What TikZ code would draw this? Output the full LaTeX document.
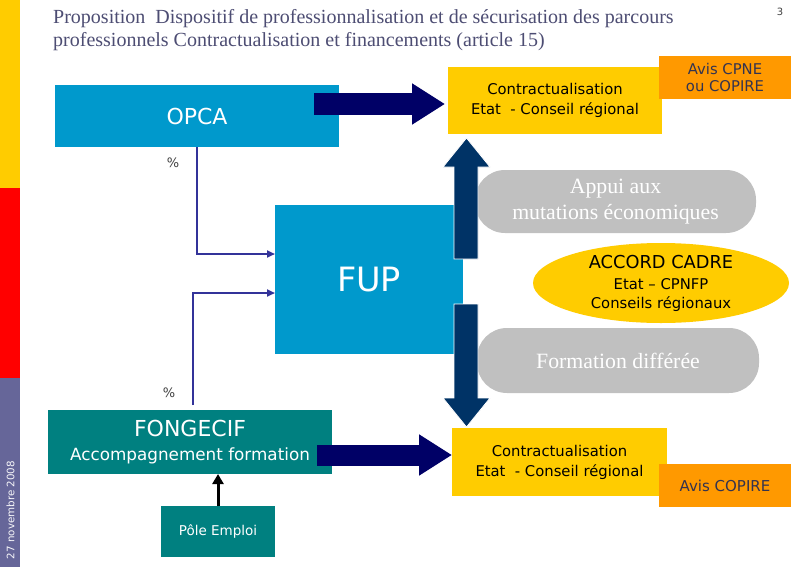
\documentclass[tikz,border=0pt]{standalone}
\usepackage{fontspec}
\setmainfont{Liberation Serif}
\newfontfamily\dvs{DejaVu Sans}
\usetikzlibrary{arrows.meta,shapes.geometric,calc}
\definecolor{barYellow}{HTML}{FFCC00}
\definecolor{barRed}{HTML}{FF0000}
\definecolor{barSlate}{HTML}{666699}
\definecolor{titleCol}{RGB}{77,77,115}
\definecolor{opcaBlue}{HTML}{0099CC}
\definecolor{navyA}{HTML}{000066}
\definecolor{navyV}{HTML}{003366}
\definecolor{connCol}{HTML}{333399}
\definecolor{tealC}{HTML}{008080}
\definecolor{orangeC}{HTML}{FF9900}
\definecolor{grayC}{HTML}{C0C0C0}
\definecolor{avisText}{RGB}{51,51,80}
\begin{document}
\begin{tikzpicture}[x=1pt,y=-1pt,
  box/.style={inner sep=0pt, outer sep=0pt, anchor=north west, align=center},
  sansT/.style={font=\dvs\fontsize{14.8}{20}\selectfont},
  conn/.style={draw=connCol, line width=2pt, -{Triangle[length=8pt,width=7pt]}},
  blockarrow/.style={draw=navyA, line width=22pt, -{Triangle[length=33pt,width=39pt]}},
  vshape/.style={fill=navyV, draw=white, line width=0.8pt},
  pill/.style={fill=grayC, rounded corners=30pt, inner sep=0pt, align=center, text=white, font=\fontsize{21.8}{26}\selectfont}
]
\useasboundingbox (0,0) rectangle (791,567);
\fill[white] (0,0) rectangle (791,567);
% left bars
\fill[barYellow] (0,0) rectangle (20,188);
\fill[barRed] (0,188) rectangle (20,378);
\fill[barSlate] (0,378) rectangle (20,567);
\node[rotate=90, text=white!95!barSlate, font=\dvs\fontsize{10.3}{12}\selectfont, inner sep=0pt] (date) at (10.5,510) {27 novembre 2008};
% title
\node[anchor=north west, align=left, inner sep=0pt, text=titleCol, font=\fontsize{20}{23}\selectfont] (title) at (53,9) {Proposition\ \ Dispositif de professionnalisation et de sécurisation des parcours\\professionnels Contractualisation et financements (article 15)};
\node[text=darkgray, font=\dvs\fontsize{10}{12}\selectfont, inner sep=0pt] (pnum) at (780,12) {3};

% boxes
\node[box, fill=opcaBlue, minimum width=284pt, minimum height=62pt, text=white, font=\dvs\fontsize{22}{26}\selectfont] (opca) at (55,85) {OPCA};
\node[box, fill=barYellow, minimum width=214pt, minimum height=67pt, sansT] (contA) at (448,67) {Contractualisation\\Etat\ \ - Conseil régional};
\node[box, fill=orangeC, minimum width=132pt, minimum height=43pt, text=avisText, font=\dvs\fontsize{14.8}{17}\selectfont] (avisA) at (659,56) {Avis CPNE\\ou COPIRE};
\node[box, fill=opcaBlue, minimum width=188pt, minimum height=149pt, text=white, font=\dvs\fontsize{33.5}{36}\selectfont] (fup) at (275,205) {FUP};
\node[box, fill=tealC, minimum width=284pt, minimum height=64pt, text=white, font=\dvs\fontsize{16.8}{24}\selectfont] (fong) at (48,410) {{\fontsize{22}{24}\selectfont FONGECIF}\\Accompagnement formation};
\node[box, fill=barYellow, minimum width=215pt, minimum height=68pt, sansT] (contB) at (452,428) {Contractualisation\\Etat\ \ - Conseil régional};
\node[box, fill=orangeC, minimum width=132pt, minimum height=43pt, text=avisText, font=\dvs\fontsize{15}{17}\selectfont] (avisB) at (659,464) {Avis COPIRE};
\node[box, fill=tealC, minimum width=114pt, minimum height=51pt, text=white, font=\dvs\fontsize{13.5}{16}\selectfont] (pole) at (161,506) {Pôle Emploi};

% gray pills and ellipse
\node[pill, minimum width=281pt, minimum height=63pt] (appui) at (615.5,201.5) {Appui aux\\mutations économiques};
\node[pill, minimum width=282pt, minimum height=65pt] (formd) at (618,360.5) {Formation différée};
\node[ellipse, fill=barYellow, minimum width=256pt, minimum height=80pt, inner sep=0pt, align=center, font=\dvs\fontsize{14.8}{19}\selectfont] (accord) at (661,283) {{\fontsize{17.8}{21}\selectfont ACCORD CADRE}\\[2pt]Etat – CPNFP\\Conseils régionaux};

% vertical double arrows
\filldraw[vshape] (454,259) -- (454,167) -- (443,167) -- (466.5,138) -- (490,167) -- (478,167) -- (478,259) -- cycle;
\filldraw[vshape] (454,304) -- (454,398) -- (443,398) -- (466.5,427) -- (490,398) -- (478,398) -- (478,304) -- cycle;

% horizontal block arrows
\coordinate (haS) at (314,104);
\coordinate (haE) at (445,104);
\draw[blockarrow] (haS) -- (haE);
\coordinate (hbS) at (317,455);
\coordinate (hbE) at (452,455);
\draw[blockarrow, line width=21pt] (hbS) -- (hbE);

% connectors
\draw[conn] (opca.south) |- ([yshift=25.5pt]fup.west);
\draw[conn, shorten <=5pt] ([xshift=3pt]fong.north) |- ([yshift=-13.5pt]fup.west);
\node[text=darkgray, font=\dvs\fontsize{13}{14}\selectfont, inner sep=0pt] (pc1) at (173,163) {\%};
\node[text=darkgray, font=\dvs\fontsize{13}{14}\selectfont, inner sep=0pt] (pc2) at (169,393) {\%};
\draw[black, line width=3pt, -{Triangle[length=10pt,width=11pt]}] (pole.north) -- (pole.north |- fong.south);
\end{tikzpicture}
\end{document}
